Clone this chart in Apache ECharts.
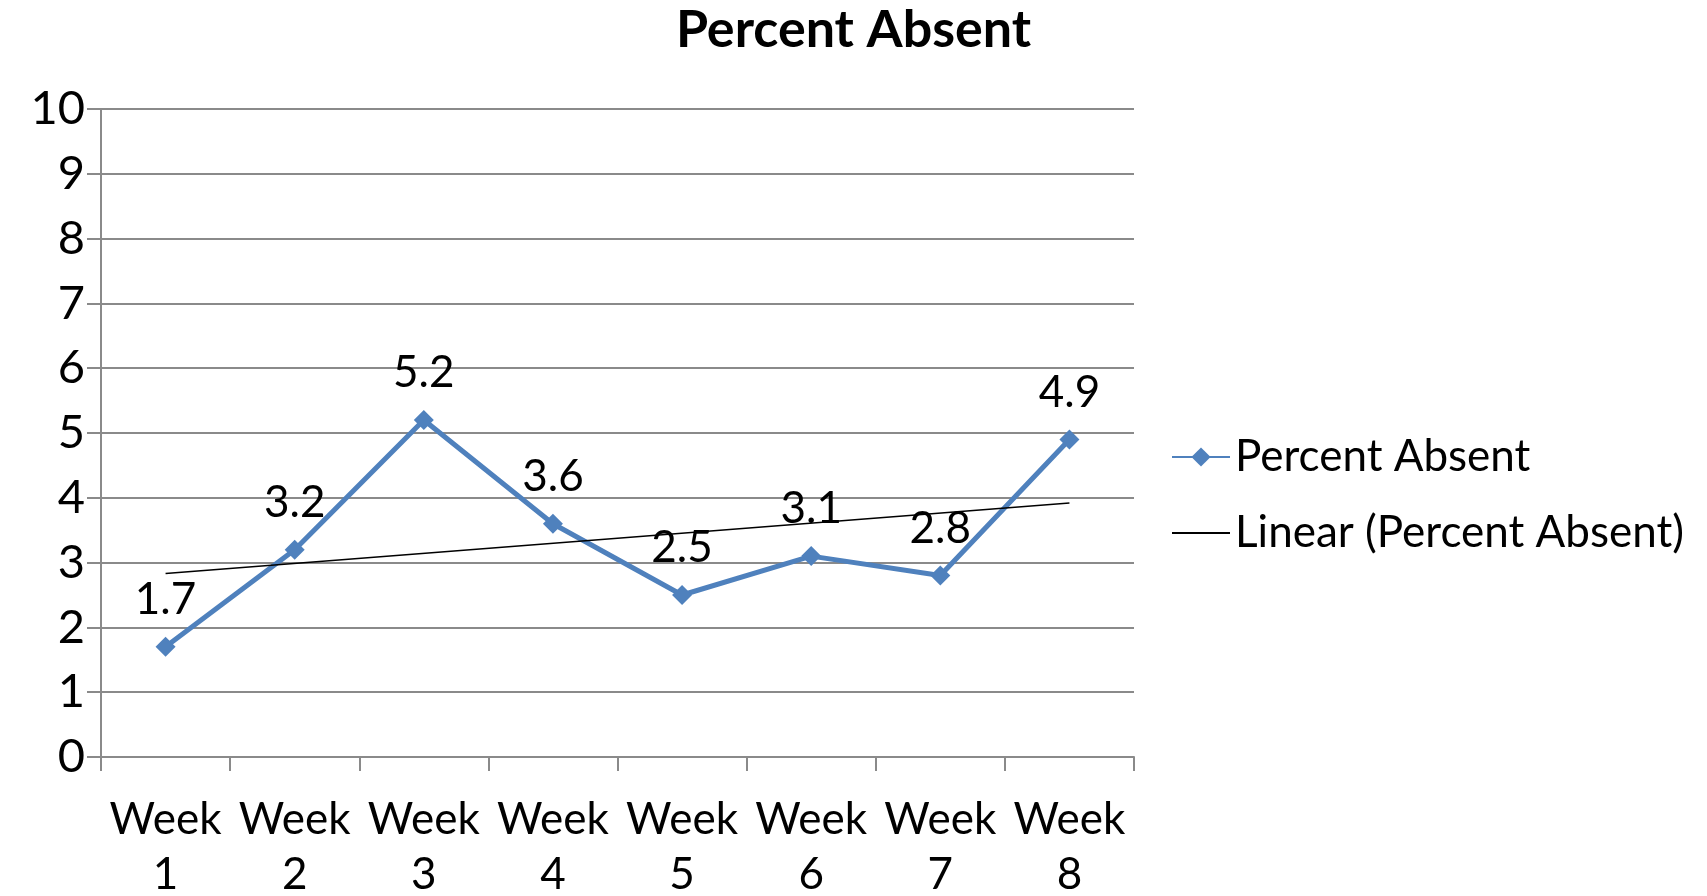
<!DOCTYPE html>
<html>
<head>
<meta charset="utf-8">
<title>Percent Absent</title>
<script src="https://cdn.jsdelivr.net/npm/echarts@6/dist/echarts.min.js"></script>
<style>
  html, body { margin: 0; padding: 0; background: #fff; }
  #chart { width: 1707px; height: 896px; }
</style>
</head>
<body>
<div id="chart"></div>
<script>
// values
const weeks = ['Week 1', 'Week 2', 'Week 3', 'Week 4', 'Week 5', 'Week 6', 'Week 7', 'Week 8']
const percentAbsent = [1.7, 3.2, 5.2, 3.6, 2.5, 3.1, 2.8, 4.9]
// trend line ends (week 1 and week 8)
const trendLine = [2.83, null, null, null, null, null, null, 3.92]
const yTicks = [0, 10, 1] // min, max, step

const FONT = 'Lato, "Open Sans", sans-serif'
const gridColor = '#8a8a8a'

const chart = echarts.init(document.getElementById('chart'))

const option = {
  backgroundColor: '#fff',
  animation: false,
  title: {
    text: 'Percent Absent',
    left: 'center',
    top: -1,
    textStyle: {
      fontFamily: FONT,
      fontSize: 52,
      fontWeight: 'bold',
      color: '#000'
    }
  },
  legend: {
    orient: 'vertical',
    left: 1166,
    top: 430,
    itemWidth: 58,
    itemHeight: 24,
    itemGap: 32,
    textStyle: {
      fontFamily: FONT,
      fontSize: 44,
      color: '#000'
    },
    data: [
      'Percent Absent',
      { name: 'Linear (Percent Absent)', itemStyle: { opacity: 0 } }
    ]
  },
  grid: {
    left: 101,
    right: 573,
    top: 109,
    bottom: 139,
    containLabel: false,
    outerBoundsMode: 'none'
  },
  xAxis: {
    type: 'category',
    data: weeks,
    boundaryGap: true,
    axisLine: { lineStyle: { color: gridColor, width: 2 } },
    axisTick: { show: true, length: 14, lineStyle: { color: gridColor, width: 2 } },
    axisLabel: {
      interval: 0,
      margin: 35,
      fontFamily: FONT,
      fontSize: 44,
      lineHeight: 55,
      color: '#000',
      formatter: v => v.replace(' ', '\n')
    }
  },
  yAxis: {
    type: 'value',
    min: yTicks[0],
    max: yTicks[1],
    interval: yTicks[2],
    axisLine: { show: true, lineStyle: { color: gridColor, width: 2 } },
    axisTick: { show: true, length: 14, lineStyle: { color: gridColor, width: 2 } },
    splitLine: { lineStyle: { color: gridColor, width: 2 } },
    axisLabel: {
      margin: 16,
      fontFamily: FONT,
      fontSize: 47,
      color: '#000'
    }
  },
  series: [
    {
      name: 'Percent Absent',
      type: 'line',
      data: percentAbsent,
      symbol: 'diamond',
      symbolSize: 20,
      lineStyle: { color: '#4F81BD', width: 5 },
      itemStyle: { color: '#4F81BD' },
      label: {
        show: true,
        position: 'top',
        distance: 15,
        fontFamily: FONT,
        fontSize: 44,
        color: '#000'
      },
      z: 3
    },
    {
      name: 'Linear (Percent Absent)',
      type: 'line',
      data: trendLine,
      connectNulls: true,
      symbol: 'none',
      lineStyle: { color: '#000', width: 1.5 },
      itemStyle: { color: '#000' },
      z: 4
    }
  ]
}

chart.setOption(option)
</script>
</body>
</html>
